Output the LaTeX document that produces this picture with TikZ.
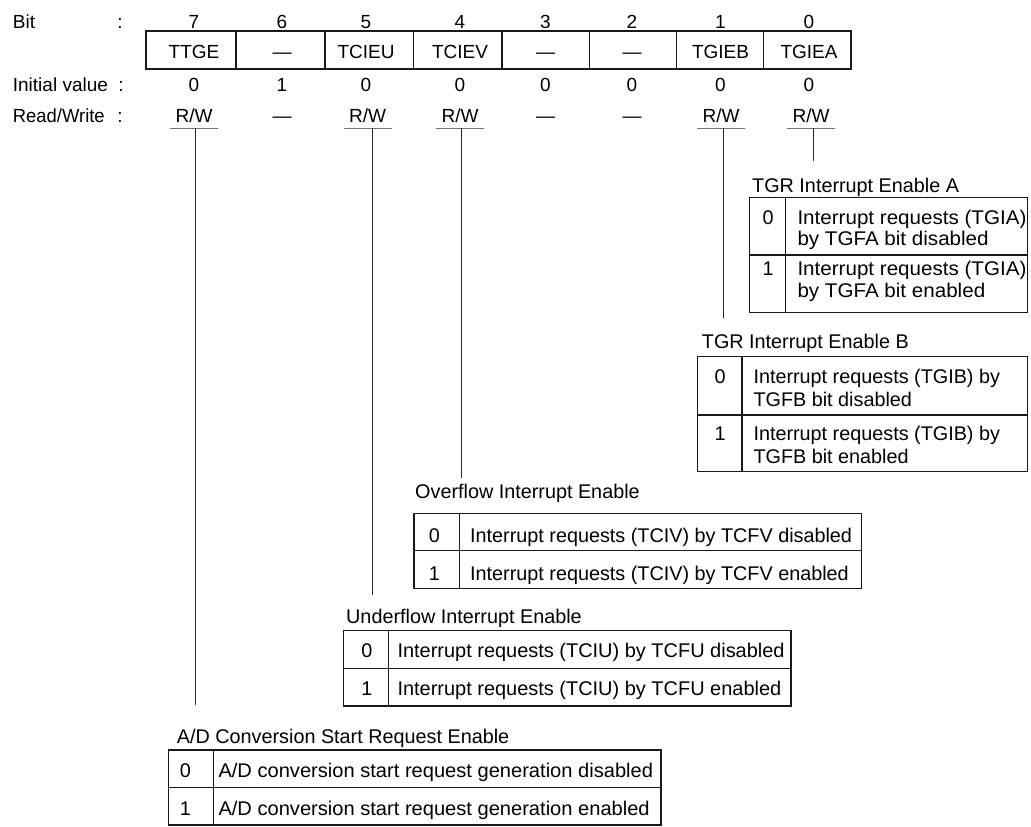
\documentclass[tikz,border=0pt]{standalone}
\usepackage{fontspec}
\setmainfont{Liberation Sans}
\usepackage{graphicx}
\begin{document}
\begin{tikzpicture}[x=1pt,y=-1pt,
  t/.style={inner sep=0pt, font=\fontsize{19.8}{24}\selectfont},
  h/.style={inner sep=0pt, font=\fontsize{19}{23}\selectfont},
  tbl/.style={line width=1.3pt, draw=black!90},
  conn/.style={line width=1pt, draw=black!85},
  uline/.style={line width=1.4pt, draw=black!55}]
\useasboundingbox (0,0) rectangle (1031,827);

% ---- header labels
\node[h, anchor=base west] (bitlbl) at (12.7,28.3) {Bit};
\node[h, anchor=base] (col1) at (120,28.3) {:};
\node[h, anchor=base west] (ivlbl) at (12.7,91.7) {Initial value};
\node[h, anchor=base] (col2) at (121,91.7) {:};
\node[h, anchor=base west] (rwlbl) at (12.7,122) {\scalebox{0.97}[1]{Read/Write}};
\node[h, anchor=base] (col3) at (120,122) {:};

% ---- register box
\draw[tbl] (146,31) rectangle (851,69);
\foreach \x in {236,325,413.3,502,589.5,676.7,763.7} \draw[tbl] (\x,31) -- (\x,69);

\foreach \cx/\b/\nm/\iv in {194/7/TTGE/0, 282/6/—/1, 366/5/TCIEU/0, 460/4/TCIEV/0,
    545.5/3/—/0, 632/2/—/0, 720.5/1/TGIEB/0, 809/0/TGIEA/0} {
  \node[h, anchor=base] (bit\b) at (\cx,28.3) {\b};
  \node[h, anchor=base] (name\b) at (\cx,58.3) {\nm};
  \node[h, anchor=base] (init\b) at (\cx,91.7) {\iv};
}

% ---- read/write row
\node[h, anchor=base] (rw7) at (194,122) {R/W};
\node[h, anchor=base] (rw6) at (282,122) {—};
\node[h, anchor=base] (rw5) at (367.5,122) {R/W};
\node[h, anchor=base] (rw4) at (460,122) {R/W};
\node[h, anchor=base] (rw3) at (545.5,122) {—};
\node[h, anchor=base] (rw2) at (632,122) {—};
\node[h, anchor=base] (rw1) at (721,122) {R/W};
\node[h, anchor=base] (rw0) at (811,122) {R/W};
\foreach \n in {7,5,4,1,0} \draw[uline] (rw\n.base) ++(-24,6.3) -- ++(48,0);

% ---- connectors
\coordinate (s7) at (195,128.3);   \coordinate (e7) at (195,705);
\coordinate (s5) at (372,128.3);   \coordinate (e5) at (372,595);
\coordinate (s4) at (461.5,128.3); \coordinate (e4) at (461.5,478);
\coordinate (s1) at (723,128.3);   \coordinate (e1) at (723,318);
\coordinate (s0) at (813,128.3);   \coordinate (e0) at (813,161);
\foreach \n in {7,5,4,1,0} \draw[conn] (s\n) -- (e\n);

% ---- Table A : TGR Interrupt Enable A
\node[t, anchor=base west] (lblA) at (752,192) {TGR Interrupt Enable A};
\draw[tbl] (749.3,197.3) rectangle (1027.3,312.3);
\draw[tbl] (749.3,255) -- (1027.3,255);
\draw[tbl] (785.7,197.3) -- (785.7,312.3);
\node[t, anchor=base] (A0) at (768,224) {0};
\node[t, anchor=base west] (A0a) at (797.3,224) {\scalebox{1.04}[1]{Interrupt requests (TGIA)}};
\node[t, anchor=base west] (A0b) at (797.3,245) {\scalebox{1.04}[1]{by TGFA bit disabled}};
\node[t, anchor=base] (A1) at (768,275) {1};
\node[t, anchor=base west] (A1a) at (797.3,275) {\scalebox{1.04}[1]{Interrupt requests (TGIA)}};
\node[t, anchor=base west] (A1b) at (797.3,297) {\scalebox{1.04}[1]{by TGFA bit enabled}};

% ---- Table B : TGR Interrupt Enable B
\node[t, anchor=base west] (lblB) at (701.7,348) {TGR Interrupt Enable B};
\draw[tbl] (697.8,356.7) rectangle (1027.8,471.3);
\draw[tbl] (697.8,415) -- (1027.8,415);
\draw[tbl] (742,356.7) -- (742,471.3);
\node[t, anchor=base] (B0) at (720,383.3) {0};
\node[t, anchor=base west] (B0a) at (753.3,383.3) {Interrupt requests (TGIB) by};
\node[t, anchor=base west] (B0b) at (753.3,406.7) {TGFB bit disabled};
\node[t, anchor=base] (B1) at (720,440) {1};
\node[t, anchor=base west] (B1a) at (753.3,440) {Interrupt requests (TGIB) by};
\node[t, anchor=base west] (B1b) at (753.3,463) {TGFB bit enabled};

% ---- Table V : Overflow Interrupt Enable
\node[t, anchor=base west] (lblV) at (415,498) {Overflow Interrupt Enable};
\draw[tbl] (414,513.3) rectangle (861.7,588.3);
\draw[tbl] (414,550.7) -- (861.7,550.7);
\draw[tbl] (459.3,513.3) -- (459.3,588.3);
\node[t, anchor=base] (V0) at (434.5,542.7) {0};
\node[t, anchor=base west] (V0a) at (470,542.7) {Interrupt requests (TCIV) by TCFV disabled};
\node[t, anchor=base] (V1) at (434.5,580) {1};
\node[t, anchor=base west] (V1a) at (470,580) {Interrupt requests (TCIV) by TCFV enabled};

% ---- Table U : Underflow Interrupt Enable
\node[t, anchor=base west] (lblU) at (346,623) {Underflow Interrupt Enable};
\draw[tbl] (343.3,630.7) rectangle (791,706);
\draw[tbl] (343.3,668.3) -- (791,668.3);
\draw[tbl] (388.3,630.7) -- (388.3,706);
\node[t, anchor=base] (U0) at (367,657.3) {0};
\node[t, anchor=base west] (U0a) at (397.3,657.3) {\scalebox{1.008}[1]{Interrupt requests (TCIU) by TCFU disabled}};
\node[t, anchor=base] (U1) at (367,695) {1};
\node[t, anchor=base west] (U1a) at (397.3,695) {\scalebox{1.008}[1]{Interrupt requests (TCIU) by TCFU enabled}};

% ---- Table AD : A/D Conversion Start Request Enable
\node[t, anchor=base west] (lblD) at (176.7,743) {A/D Conversion Start Request Enable};
\draw[tbl] (168.3,750) rectangle (661,825);
\draw[tbl] (168.3,787.3) -- (661,787.3);
\draw[tbl] (213.3,750) -- (213.3,825);
\node[t, anchor=base] (D0) at (185.5,777.3) {0};
\node[t, anchor=base west] (D0a) at (218.3,777.3) {\scalebox{1.015}[1]{A/D conversion start request generation disabled}};
\node[t, anchor=base] (D1) at (185.5,815) {1};
\node[t, anchor=base west] (D1a) at (218.3,815) {\scalebox{1.015}[1]{A/D conversion start request generation enabled}};
\end{tikzpicture}
\end{document}
